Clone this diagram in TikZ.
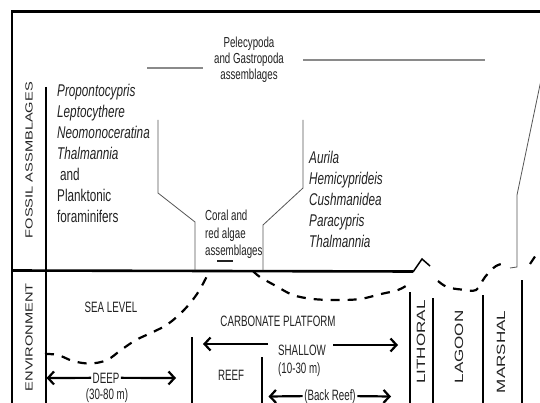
\documentclass[tikz,border=0pt]{standalone}
\usepackage{fontspec}
\setmainfont{Liberation Sans}
\newfontfamily\fa{Liberation Sans}[FakeStretch=0.69]
\newfontfamily\fb{Liberation Sans}[FakeStretch=0.65]
\newfontfamily\fc{Liberation Sans}[FakeStretch=0.67]
\newfontfamily\fr{Liberation Sans}[FakeStretch=1.42]
\usetikzlibrary{arrows.meta}
\definecolor{ink}{HTML}{222222}
\definecolor{thin}{HTML}{555555}
\definecolor{pale}{HTML}{8A8A8A}
\begin{document}
\begin{tikzpicture}[x=1pt,y=-1pt,
  lab/.style={inner sep=0pt, text=ink},
  fossil/.style={lab, align=left, font=\fa\fontsize{17}{21}\selectfont},
  small/.style={lab, font=\fc\fontsize{14.5}{16}\selectfont},
  env/.style={lab, inner sep=1.5pt, font=\fb\fontsize{15}{16}\selectfont},
  side/.style={lab, rotate=90, font=\fr\fontsize{10.3}{12}\selectfont},
  zone/.style={lab, rotate=90, font=\fr\fontsize{12}{14}\selectfont},
  frame/.style={line width=2.6pt, draw=black},
  sep/.style={line width=2.2pt, draw=black},
  funnel/.style={line width=0.8pt, draw=thin},
  grayline/.style={line width=1.3pt, draw=pale},
  sealevel/.style={line width=2.2pt, dash pattern=on 9pt off 8pt},
  arr/.style={line width=2.2pt, -{Straight Barb[length=6pt,width=13pt]}}
]
\useasboundingbox (0,0) rectangle (540,403);
\clip (0,0) rectangle (540,403);
\fill[white] (0,0) rectangle (540,403);

% frame
\draw[frame] (12,11.5) -- (540,11.5);
\draw[frame] (12,10.2) -- (12,403);
\draw[sep] (46,87) -- (46,403);
\draw[frame] (12,270.5) -- (413,271.5);
\draw[line width=1.5pt] (413,272) -- (422,259) -- (430,266);

% side labels
\node[side, anchor=east] (fos) at (29,82) {FOSSIL ASSMBLAGES};
\node[side, anchor=east] (envl) at (29,283) {ENVIRONMENT};

% fossil assemblages
\node[fossil, anchor=north west] (lf) at (57,84)
  {\textit{Propontocypris}\\ \textit{Leptocythere}\\ \textit{Neomonoceratina}\\ \textit{Thalmannia}\\ \hspace{3pt}and\\ Planktonic\\ foraminifers};
\node[fossil, anchor=north west] (rf) at (309,151)
  {\textit{Aurila}\\ \textit{Hemicyprideis}\\ \textit{Cushmanidea}\\ \textit{Paracypris}\\ \textit{Thalmannia}};
\node[small, align=center, anchor=north] (pel) at (249,37)
  {Pelecypoda\\ and Gastropoda\\ assemblages};
\node[small, align=left, anchor=north west, font=\fc\fontsize{14.5}{17.5}\selectfont] (cor) at (205,210)
  {Coral and\\ red algae\\ assemblages};

% gray lines beside Pelecypoda
\coordinate (g1) at (147,68); \coordinate (g2) at (203,68);
\coordinate (g3) at (303,60); \coordinate (g4) at (485,60);
\draw[grayline] (g1) -- (g2);
\draw[grayline] (g3) -- (g4);

% coral funnel
\draw[funnel] (158,120) -- (158,193) -- (195,222) -- (195,270);
\draw[funnel] (303,120) -- (303,188) -- (263,225) -- (263,270);
\draw[line width=1.1pt, draw=ink] (217,261) -- (233,261);

% right thin line
\draw[funnel] (541,80) -- (517,195) -- (517,267) -- (510,268);

% sea level dashed curves
\draw[sealevel] plot[smooth, tension=0.6] coordinates
  {(45,354) (58,355) (73,361) (90,363.5) (107,360) (121,350) (136,340) (153,332) (168,324) (184,310) (197,294) (206,278) (209,271)};
\draw[sealevel] plot[smooth, tension=0.6] coordinates
  {(253,271) (260,277) (276,286) (293,295) (313,299) (337,300) (360,299) (381,294) (398,290) (409,284)};
\draw[sealevel] plot[smooth, tension=0.6] coordinates
  {(438,281) (447,287) (461,289.5) (476,290) (485,277) (496,266) (507,263)};
\draw[sealevel] (530,264) -- (538,252);

% environment separators
\draw[sep] (192,337) -- (192,403);
\draw[sep] (262,357) -- (262,403);
\draw[sep] (410,292) -- (410,403);
\draw[sep] (433,298) -- (433,403);
\draw[sep] (483,295) -- (483,403);
\draw[sep] (522,280) -- (522,403);

% environment labels
\node[env, anchor=base] (sea) at (111,312) {SEA LEVEL};
\node[env, anchor=base] (carb) at (278,326) {CARBONATE PLATFORM};
\node[env, anchor=base west] (shal) at (276.5,355) {SHALLOW};
\node[env, anchor=base west] (shald) at (276.5,373) {(10-30 m)};
\node[env, anchor=base] (reef) at (231,380) {REEF};
\node[env, anchor=base] (deep) at (106,383) {DEEP};
\node[env, anchor=base] (deepd) at (107,399.5) {(30-80 m)};
\node[env, anchor=base] (back) at (330,400) {(Back Reef)};

\node[zone] (lith) at (421,342) {LITHORAL};
\node[zone] (lag) at (459,347) {LAGOON};
\node[zone] (mar) at (501,352) {MARSHAL};

% arrows
\coordinate (dl) at (46.5,378);
\coordinate (dr) at (176,378);
\draw[arr] (deep.west) -- (dl);
\draw[arr] (deep.east) -- (dr);
\coordinate (sa) at (268,344);
\coordinate (sl) at (203,344);
\coordinate (sb) at (333,345);
\coordinate (sr) at (398,345);
\draw[arr] (sa) -- (sl);
\draw[arr] (sb) -- (sr);
\coordinate (bl) at (268.5,396.5);
\coordinate (br) at (391,396.5);
\draw[arr] (back.west) -- (bl);
\draw[arr] (back.east) -- (br);
\end{tikzpicture}
\end{document}
